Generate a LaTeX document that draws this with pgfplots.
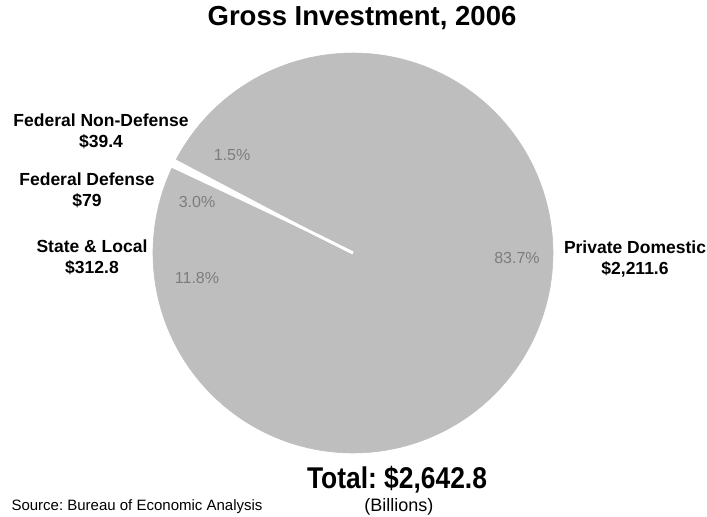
\documentclass[border=0pt]{standalone}
\usepackage{fontspec}
\setmainfont{Liberation Sans}
\usepackage{pgfplots}
\usepackage{pgfplotstable}
\pgfplotsset{compat=1.18}
\definecolor{piegray}{RGB}{190,190,190}
\definecolor{pctgray}{RGB}{125,125,125}
\frenchspacing

\pgfplotstableread{
name value
NonDefense 39.4
Private 2211.6
StateLocal 312.8
Defense 79
}\pietable

\begin{document}
\begin{tikzpicture}
\useasboundingbox (0bp,0bp) rectangle (707bp,-517bp);
\pgfplotstablegetelem{0}{value}\of\pietable \let\vA\pgfplotsretval
\pgfplotstablegetelem{1}{value}\of\pietable \let\vB\pgfplotsretval
\pgfplotstablegetelem{2}{value}\of\pietable \let\vC\pgfplotsretval
\pgfplotstablegetelem{3}{value}\of\pietable \let\vD\pgfplotsretval
\pgfmathsetmacro{\total}{\vA+\vB+\vC+\vD}
\pgfmathsetmacro{\sA}{153.5}
\pgfmathsetmacro{\eA}{\sA-360*(\vA/\total)}
\pgfmathsetmacro{\eB}{\eA-360*(\vB/\total)}
\pgfmathsetmacro{\eC}{\eB-360*(\vC/\total)}
\pgfmathsetmacro{\eD}{\eC-360*(\vD/\total)}
\pgfmathsetmacro{\gl}{\sA-1.3}
\pgfmathsetmacro{\gr}{\sA+1.3}
\begin{axis}[at={(353bp,-253bp)}, anchor=center, scale only axis,
  width=400bp, height=400bp, xmin=-1, xmax=1, ymin=-1, ymax=1,
  hide axis, clip=false]
\addplot[fill=piegray, draw=piegray, line width=0.6bp, line join=round, domain=\eA:\sA, samples=10, variable=\t] ({cos(\t)},{sin(\t)}) -- (axis cs:0,0) -- cycle;
\addplot[fill=piegray, draw=piegray, line width=0.6bp, line join=round, domain=\eB:\eA, samples=150, variable=\t] ({cos(\t)},{sin(\t)}) -- (axis cs:0,0) -- cycle;
\addplot[fill=piegray, draw=piegray, line width=0.6bp, line join=round, domain=\eC:\eB, samples=30, variable=\t] ({cos(\t)},{sin(\t)}) -- (axis cs:0,0) -- cycle;
\addplot[fill=piegray, draw=piegray, line width=0.6bp, line join=round, domain=\eD:\eC, samples=12, variable=\t] ({cos(\t)},{sin(\t)}) -- (axis cs:0,0) -- cycle;
% exploded gap between the two federal slices
\fill[white] (axis cs:0,0) -- (axis cs:{1.06*cos(\gl)},{1.06*sin(\gl)}) -- (axis cs:{1.06*cos(\gr)},{1.06*sin(\gr)}) -- cycle;
\draw[white, line width=3bp] (axis cs:0,0) -- (axis cs:{1.06*cos(\sA)},{1.06*sin(\sA)});
\node[pctgray, font=\fontsize{16bp}{18bp}\selectfont] at (axis cs:0.82,-0.025) {83.7\%};
\node[pctgray, font=\fontsize{16bp}{18bp}\selectfont] at (axis cs:-0.78,-0.125) {11.8\%};
\node[pctgray, font=\fontsize{16bp}{18bp}\selectfont] at (axis cs:-0.78,0.255) {3.0\%};
\node[pctgray, font=\fontsize{16bp}{18bp}\selectfont] at (axis cs:-0.605,0.49) {1.5\%};
\end{axis}
\node[font=\fontsize{27.5bp}{32bp}\selectfont\bfseries] at (362bp,-18bp) {Gross Investment, 2006};
\node[align=center, font=\fontsize{17.5bp}{21bp}\selectfont\bfseries] at (101bp,-131.5bp) {Federal Non-Defense\\\$39.4};
\node[align=center, font=\fontsize{17.5bp}{21bp}\selectfont\bfseries] at (87bp,-190bp) {Federal Defense\\\$79};
\node[align=center, font=\fontsize{17.5bp}{21bp}\selectfont\bfseries] at (92bp,-257.5bp) {State \& Local\\\$312.8};
\node[align=center, font=\fontsize{17.5bp}{21bp}\selectfont\bfseries] at (635bp,-259bp) {Private Domestic\\\$2,211.6};
\node[font=\fontsize{30bp}{34bp}\selectfont\bfseries] at (397bp,-480bp) {\scalebox{0.88}[1]{Total: \$2,642.8}};
\node[font=\fontsize{18bp}{21bp}\selectfont] at (399bp,-507bp) {(Billions)};
\node[anchor=west, font=\fontsize{15bp}{18bp}\selectfont] at (8bp,-507bp) {Source: Bureau of Economic Analysis};
\end{tikzpicture}
\end{document}
